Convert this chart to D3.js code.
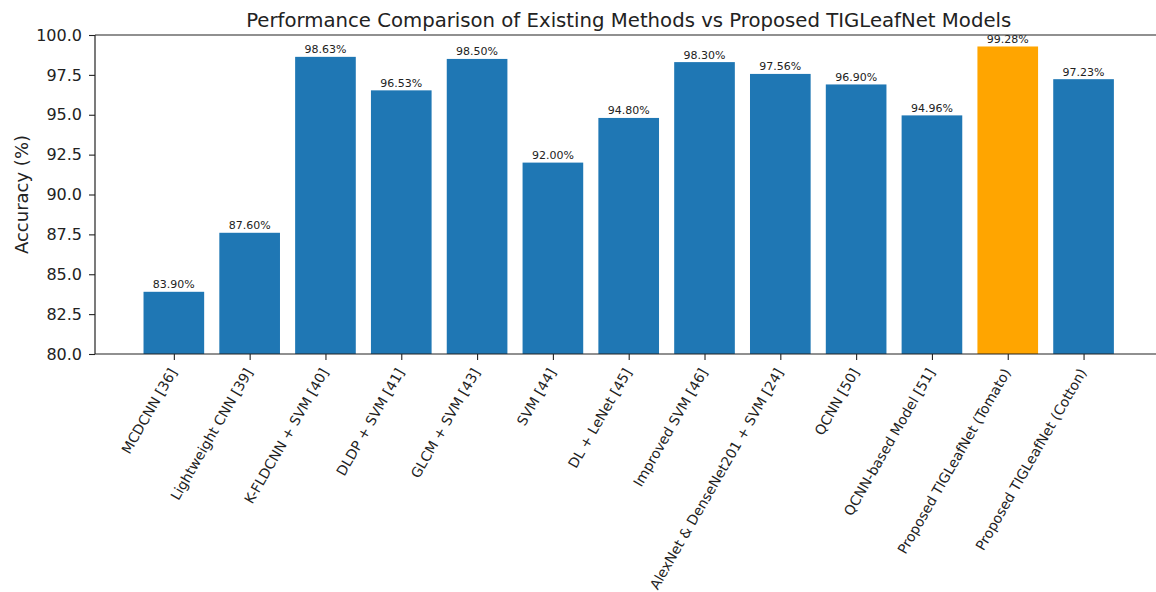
<!DOCTYPE html>
<html>
<head>
<meta charset="utf-8">
<script src="https://cdn.jsdelivr.net/npm/d3@7"></script>
<style>
  html, body { margin: 0; padding: 0; background: #fff; }
  svg { display: block; font-family: "DejaVu Sans", sans-serif; }
</style>
</head>
<body>
<svg id="chart" width="1156" height="592"></svg>
<script>
// Method names and reported accuracy (%)
const methods = [
  "MCDCNN [36]",
  "Lightweight CNN [39]",
  "K-FLDCNN + SVM [40]",
  "DLDP + SVM [41]",
  "GLCM + SVM [43]",
  "SVM [44]",
  "DL + LeNet [45]",
  "Improved SVM [46]",
  "AlexNet & DenseNet201 + SVM [24]",
  "QCNN [50]",
  "QCNN-based Model [51]",
  "Proposed TIGLeafNet (Tomato)",
  "Proposed TIGLeafNet (Cotton)"
];
const accuracy = [83.90, 87.60, 98.63, 96.53, 98.50, 92.00, 94.80, 98.30, 97.56, 96.90, 94.96, 99.28, 97.23];
const highlighted = ["Proposed TIGLeafNet (Tomato)"];
const yTicks = [80.0, 82.5, 85.0, 87.5, 90.0, 92.5, 95.0, 97.5, 100.0];

const title = "Performance Comparison of Existing Methods vs Proposed TIGLeafNet Models";
const yLabel = "Accuracy (%)";

const svg = d3.select("#chart");
const plot = { left: 95, right: 1162.4, top: 35, bottom: 354 };

// Index-based x scale with the same padding as a default bar plot
const barW = 0.8;
const pad = (methods.length - 1 + barW) * 0.05;
const x = d3.scaleLinear()
  .domain([-barW / 2 - pad, methods.length - 1 + barW / 2 + pad])
  .range([plot.left, plot.right]);
const y = d3.scaleLinear().domain([80, 100]).range([plot.bottom, plot.top]);

const data = methods.map((m, i) => ({ name: m, value: accuracy[i], i }));

// Bars
svg.append("g")
  .selectAll("rect")
  .data(data)
  .join("rect")
  .attr("x", d => x(d.i - barW / 2))
  .attr("width", x(barW) - x(0))
  .attr("y", d => y(d.value))
  .attr("height", d => y(80) - y(d.value))
  .attr("fill", d => highlighted.includes(d.name) ? "#ffa500" : "#1f77b4");

// Value labels above bars
svg.append("g")
  .selectAll("text")
  .data(data)
  .join("text")
  .attr("x", d => x(d.i))
  .attr("y", d => y(d.value) - 3.5)
  .attr("text-anchor", "middle")
  .attr("font-size", 11)
  .attr("fill", "#222")
  .text(d => d.value.toFixed(2) + "%");

// Y axis
const yAxis = d3.axisLeft(y)
  .tickValues(yTicks)
  .tickFormat(d3.format(".1f"))
  .tickSize(6)
  .tickPadding(7);
const gy = svg.append("g")
  .attr("transform", `translate(${plot.left},0)`)
  .call(yAxis);
gy.select(".domain").remove();
gy.selectAll("text").attr("font-size", 16).attr("fill", "#222").attr("font-family", "DejaVu Sans");
gy.selectAll("line").attr("stroke", "#222").attr("stroke-width", 1.1);

// X axis ticks with rotated labels
const xAxis = d3.axisBottom(x)
  .tickValues(d3.range(methods.length))
  .tickFormat(i => methods[i])
  .tickSize(6);
const gx = svg.append("g")
  .attr("transform", `translate(0,${plot.bottom})`)
  .call(xAxis);
gx.select(".domain").remove();
gx.selectAll("line").attr("stroke", "#222").attr("stroke-width", 1.1);
gx.selectAll("text")
  .attr("font-size", 13.9)
  .attr("fill", "#222")
  .attr("font-family", "DejaVu Sans")
  .attr("text-anchor", "end")
  .attr("x", null)
  .attr("y", null)
  .attr("dy", null)
  .attr("transform", "translate(3,18) rotate(-60)");

// Spines: left, bottom, top
const spines = svg.append("g").attr("stroke", "#222").attr("stroke-width", 1.2).attr("fill", "none");
spines.append("line").attr("x1", plot.left).attr("x2", plot.left).attr("y1", plot.top).attr("y2", plot.bottom);
spines.append("line").attr("x1", plot.left).attr("x2", plot.right).attr("y1", plot.bottom).attr("y2", plot.bottom);
spines.append("line").attr("x1", plot.left).attr("x2", plot.right).attr("y1", plot.top).attr("y2", plot.top);

// Title
svg.append("text")
  .attr("x", (plot.left + plot.right) / 2)
  .attr("y", 27)
  .attr("text-anchor", "middle")
  .attr("font-size", 19.7)
  .attr("fill", "#222")
  .text(title);

// Y label
svg.append("text")
  .attr("transform", `translate(28,${(plot.top + plot.bottom) / 2}) rotate(-90)`)
  .attr("text-anchor", "middle")
  .attr("font-size", 18)
  .attr("fill", "#222")
  .text(yLabel);
</script>
</body>
</html>
